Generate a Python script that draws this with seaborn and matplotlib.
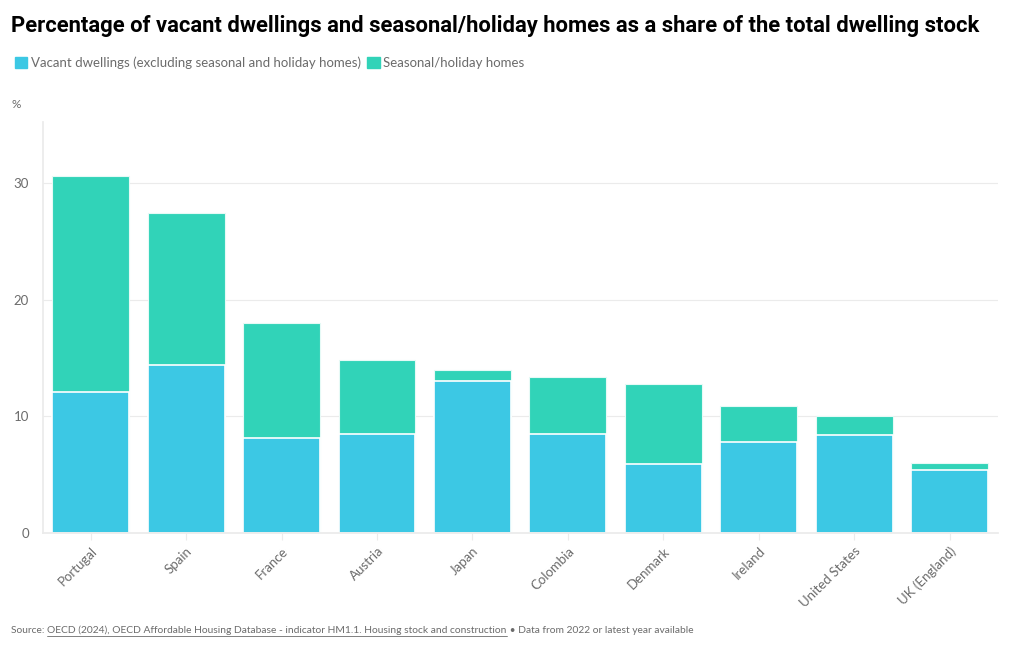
import pandas as pd
import matplotlib.pyplot as plt
import matplotlib.patches as mpatches
import seaborn as sns

PAISES = ['Portugal', 'Spain', 'France', 'Austria', 'Japan', 'Colombia',
          'Denmark', 'Ireland', 'United States', 'UK (England)']
VAGOS = [12.1, 14.4, 8.1, 8.5, 13.0, 8.5, 5.9, 7.8, 8.4, 5.4]
SAZONAIS = [18.5, 13.0, 9.9, 6.3, 1.0, 4.9, 6.9, 3.1, 1.6, 0.6]

COR_VAGO = '#3cc8e4'
COR_SAZONAL = '#31d3b8'
CINZA = '#6b6b6b'
TITULO = 'Percentage of vacant dwellings and seasonal/holiday homes as a share of the total dwelling stock'


def main():
    sns.set_theme(style='white')
    plt.rcParams['font.family'] = ['Lato', 'DejaVu Sans']

    df = pd.DataFrame({'País': PAISES, 'Vago': VAGOS, 'Sazonal': SAZONAIS})
    df['Total'] = df['Vago'] + df['Sazonal']

    fig = plt.figure(figsize=(10.2, 6.5), dpi=100)
    ax = fig.add_axes([0.042, 0.18, 0.936, 0.632])

    sns.barplot(x='País', y='Total', data=df, color=COR_SAZONAL, width=0.806,
                saturation=1, edgecolor='#e6faf6', linewidth=0.8, ax=ax)
    sns.barplot(x='País', y='Vago', data=df, color=COR_VAGO, width=0.806,
                saturation=1, edgecolor='white', linewidth=1.2, ax=ax)

    ax.set_xlim(-0.5, 9.5)
    ax.set_ylim(0, 35.2)
    ax.set_yticks([0, 10, 20, 30])
    ax.yaxis.grid(True, color='#ebebeb', linewidth=0.8)
    ax.set_axisbelow(True)
    for lado in ['top', 'right']:
        ax.spines[lado].set_visible(False)
    ax.spines['left'].set_color('#ebebeb')
    ax.spines['bottom'].set_color('#ebebeb')
    ax.set_xlabel('')
    ax.set_ylabel('')
    ax.tick_params(axis='y', colors=CINZA, labelsize=9.5, length=0, pad=10)
    ax.tick_params(axis='x', colors='#ebebeb', labelcolor=CINZA, labelsize=9.5,
                   length=5, width=0.8, bottom=True)
    plt.setp(ax.get_xticklabels(), rotation=45, ha='right', rotation_mode='anchor')

    fig.canvas.draw()
    r = fig.canvas.get_renderer()

    # título: ajusta o tamanho para ocupar a mesma largura do original (~972 px)
    tit = fig.text(0.011, 0.96, TITULO, family=['Roboto', 'DejaVu Sans'], fontweight='bold',
                   fontsize=16, va='center', color='black')
    largura = tit.get_window_extent(r).width
    tit.set_fontsize(16 * 972 / largura)

    fig.text(0.011, 0.84, '%', fontsize=8.5, color=CINZA, va='center')

    alcas = [mpatches.FancyBboxPatch((0, 0), 1, 1, boxstyle='round,pad=0.1', color=COR_VAGO),
             mpatches.FancyBboxPatch((0, 0), 1, 1, boxstyle='round,pad=0.1', color=COR_SAZONAL)]
    fig.legend(alcas, ['Vacant dwellings (excluding seasonal and holiday homes)',
                       'Seasonal/holiday homes'],
               loc='center left', bbox_to_anchor=(0.003, 0.903), ncol=2, frameon=False,
               handlelength=0.95, handleheight=0.95, handletextpad=0.25, columnspacing=0.5,
               fontsize=9.5, labelcolor=CINZA)

    # rodapé com link sublinhado
    y_rod = 0.026
    t1 = fig.text(0.011, y_rod, 'Source: ', fontsize=7.4, color=CINZA, va='baseline')
    bb = t1.get_window_extent(r).transformed(fig.transFigure.inverted())
    t2 = fig.text(bb.x1, y_rod, 'OECD (2024), OECD Affordable Housing Database - indicator HM1.1. Housing stock and construction',
                  fontsize=7.4, color=CINZA, va='baseline')
    bb2 = t2.get_window_extent(r).transformed(fig.transFigure.inverted())
    fig.add_artist(plt.Line2D([bb2.x0, bb2.x1], [y_rod - 0.004, y_rod - 0.004],
                              color=CINZA, linewidth=0.6, transform=fig.transFigure))
    fig.text(bb2.x1, y_rod, ' • Data from 2022 or latest year available',
             fontsize=7.4, color=CINZA, va='baseline')

    fig.savefig('out.png', dpi=100)
    plt.close()


if __name__ == '__main__':
    main()
